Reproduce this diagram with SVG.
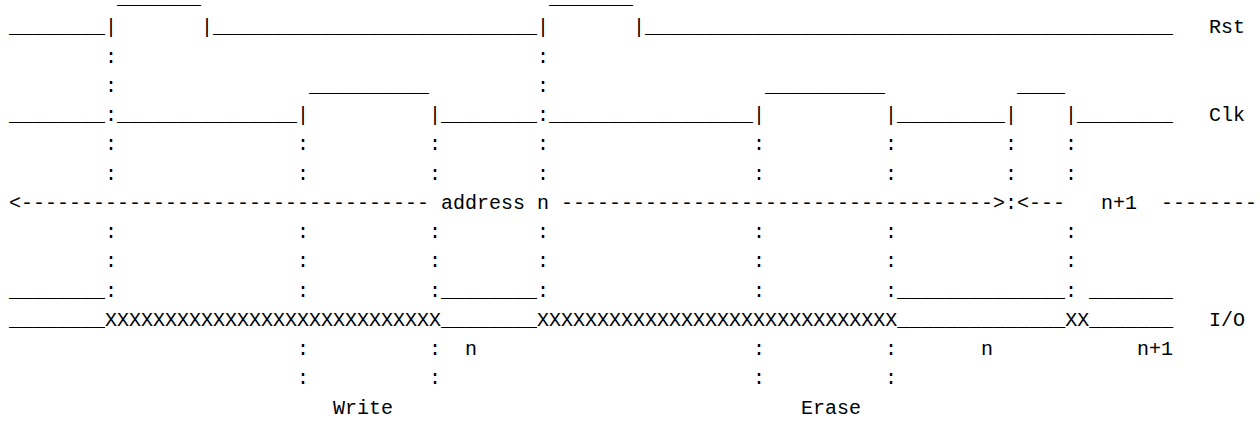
<svg xmlns="http://www.w3.org/2000/svg" width="1260" height="421" viewBox="0 0 1260 421">
<style>
text{font-family:"Liberation Mono","DejaVu Sans Mono",monospace;font-size:20px;fill:#000;white-space:pre}
</style>
<rect width="1260" height="421" fill="#fff"/>
<g id="rst">
<text y="4"><tspan x="117">_______</tspan><tspan x="549">_______</tspan></text>
<text y="33.25"><tspan x="9">________|</tspan><tspan x="201">|___________________________|</tspan><tspan x="633">|____________________________________________</tspan><tspan x="1209">Rst</tspan></text>
</g>
<g id="clk">
<text y="91.75"><tspan x="309">__________</tspan><tspan x="765">__________</tspan><tspan x="1017">____</tspan></text>
<text y="121"><tspan x="9">________:_______________|</tspan><tspan x="429">|________:_________________|</tspan><tspan x="885">|_________|</tspan><tspan x="1065">|________</tspan><tspan x="1209">Clk</tspan></text>
</g>
<g id="address">
<text y="208.75"><tspan x="9">&lt;----------------------------------</tspan><tspan x="441">address n</tspan><tspan x="561">------------------------------------&gt;:&lt;---</tspan><tspan x="1101">n+1</tspan><tspan x="1161">--------</tspan></text>
</g>
<g id="io">
<text y="296.5"><tspan x="9">________:</tspan><tspan x="429">:________:</tspan><tspan x="885">:______________:</tspan><tspan x="1089">_______</tspan></text>
<text y="325.75"><tspan x="9">________XXXXXXXXXXXXXXXXXXXXXXXXXXXX________XXXXXXXXXXXXXXXXXXXXXXXXXXXXXX______________XX_______</tspan><tspan x="1209">I/O</tspan></text>
<text y="355"><tspan x="465">n</tspan><tspan x="981">n</tspan><tspan x="1137">n+1</tspan></text>
</g>
<g id="connectors">
<text y="62.5"><tspan x="105">:</tspan><tspan x="537">:</tspan></text>
<text y="91.75"><tspan x="105">:</tspan><tspan x="537">:</tspan></text>
<text y="150.25"><tspan x="105">:</tspan><tspan x="297">:</tspan><tspan x="429">:</tspan><tspan x="537">:</tspan><tspan x="753">:</tspan><tspan x="885">:</tspan><tspan x="1005">:</tspan><tspan x="1065">:</tspan></text>
<text y="179.5"><tspan x="105">:</tspan><tspan x="297">:</tspan><tspan x="429">:</tspan><tspan x="537">:</tspan><tspan x="753">:</tspan><tspan x="885">:</tspan><tspan x="1005">:</tspan><tspan x="1065">:</tspan></text>
<text y="238"><tspan x="105">:</tspan><tspan x="297">:</tspan><tspan x="429">:</tspan><tspan x="537">:</tspan><tspan x="753">:</tspan><tspan x="885">:</tspan><tspan x="1065">:</tspan></text>
<text y="267.25"><tspan x="105">:</tspan><tspan x="297">:</tspan><tspan x="429">:</tspan><tspan x="537">:</tspan><tspan x="753">:</tspan><tspan x="885">:</tspan><tspan x="1065">:</tspan></text>
<text y="296.5"><tspan x="297">:</tspan><tspan x="753">:</tspan></text>
<text y="355"><tspan x="297">:</tspan><tspan x="429">:</tspan><tspan x="753">:</tspan><tspan x="885">:</tspan></text>
<text y="384.25"><tspan x="297">:</tspan><tspan x="429">:</tspan><tspan x="753">:</tspan><tspan x="885">:</tspan></text>
</g>
<g id="labels">
<text y="413.5"><tspan x="333">Write</tspan><tspan x="801">Erase</tspan></text>
</g>
</svg>
